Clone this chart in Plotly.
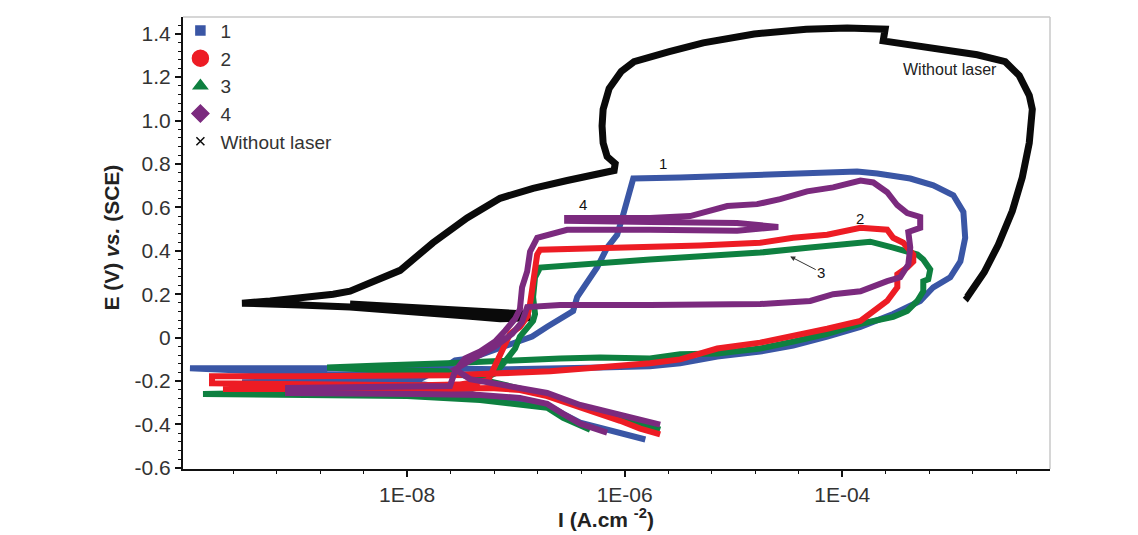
import plotly.graph_objects as go

# ---------------- data (I in A/cm^2, E in V vs SCE) ----------------
black_I = [2.99e-9, 1.73e-8, 7.16e-8, 1.27e-7, 1.27e-7, 7.16e-8, 3.56e-8, 1.73e-8, 8.63e-9, 2.99e-9,
           1.04e-9, 3.04e-10, 5.50e-10, 1.04e-9, 2.09e-9, 2.99e-9, 6.98e-9, 8.63e-9, 1.73e-8, 3.56e-8,
           7.16e-8, 1.44e-7, 2.96e-7, 5.96e-7, 8.0e-7, 8.18e-7, 6.90e-7, 6.34e-7, 6.20e-7, 6.34e-7,
           7.20e-7, 9.30e-7, 1.22e-6, 2.57e-6, 5.27e-6, 1.55e-5, 4.67e-5, 1.11e-4, 2.48e-4, 2.38e-4,
           4.13e-4, 8.49e-4, 1.74e-3, 3.15e-3, 4.24e-3, 5.24e-3, 5.59e-3, 5.24e-3, 4.52e-3, 3.66e-3,
           2.72e-3, 2.02e-3, 1.67e-3, 1.41e-3, 1.35e-3]
black_E = [0.155, 0.137, 0.118, 0.109, 0.091, 0.087, 0.100, 0.114, 0.128, 0.141,
           0.150, 0.159, 0.169, 0.182, 0.200, 0.214, 0.292, 0.310, 0.437, 0.551,
           0.642, 0.688, 0.724, 0.756, 0.770, 0.802, 0.834, 0.897, 0.975, 1.052,
           1.148, 1.226, 1.271, 1.317, 1.358, 1.399, 1.421, 1.426, 1.421, 1.367,
           1.349, 1.326, 1.303, 1.271, 1.207, 1.116, 1.052, 0.897, 0.738, 0.583,
           0.428, 0.301, 0.237, 0.187, 0.196]

s1_I = [1.55e-6, 1.01e-6, 6.90e-7, 3.90e-7, 2.72e-7, 1.94e-7, 1.09e-7, 4.69e-8, 2.48e-8, 1.32e-8,
        1.96e-9, 3.04e-10, 1.96e-9, 1.32e-8, 2.33e-8, 2.76e-8, 3.79e-8, 5.79e-8, 8.85e-8, 1.41e-7,
        1.94e-7, 2.72e-7, 3.36e-7, 3.66e-7, 4.52e-7, 5.58e-7, 6.90e-7, 8.53e-7, 9.68e-7, 1.12e-6,
        1.20e-6, 3.24e-6, 1.43e-5, 4.11e-5, 1.37e-4, 2.10e-4, 4.22e-4, 6.87e-4, 1.05e-3, 1.30e-3,
        1.35e-3, 1.22e-3, 9.84e-4, 6.87e-4, 5.21e-4, 2.94e-4, 1.47e-4, 7.28e-5, 3.54e-5, 1.76e-5,
        7.10e-6, 3.24e-6, 1.71e-6, 5.96e-7, 2.07e-7, 7.16e-8, 1.32e-8, 1.84e-9, 1.01e-10, 1.84e-9,
        1.32e-8, 4.69e-8]
s1_E = [-0.469, -0.446, -0.424, -0.392, -0.351, -0.310, -0.292, -0.269, -0.232, -0.214,
        -0.210, -0.205, -0.200, -0.191, -0.128, -0.105, -0.096, -0.064, -0.027, 0.005,
        0.050, 0.096, 0.123, 0.187, 0.260, 0.323, 0.415, 0.474, 0.565, 0.688,
        0.733, 0.738, 0.747, 0.752, 0.765, 0.756, 0.733, 0.702, 0.656, 0.579,
        0.460, 0.351, 0.278, 0.232, 0.169, 0.109, 0.050, 0.005, -0.036, -0.064,
        -0.087, -0.118, -0.132, -0.137, -0.141, -0.146, -0.141, -0.141, -0.141, -0.169,
        -0.169, -0.173]

s2_I = [2.12e-6, 1.39e-6, 9.10e-7, 3.90e-7, 1.94e-7, 1.09e-7, 5.79e-8, 2.48e-8, 2.99e-9, 2.03e-10,
        2.99e-9, 2.48e-8, 5.56e-8, 6.18e-8, 7.16e-8, 7.96e-8, 8.85e-8, 1.09e-7, 1.27e-7, 1.35e-7,
        1.41e-7, 1.50e-7, 1.57e-7, 1.67e-7, 1.71e-6, 4.94e-6, 1.76e-5, 3.54e-5, 7.28e-5, 1.47e-4,
        2.59e-4, 2.94e-4, 3.64e-4, 4.50e-4, 4.50e-4, 3.96e-4, 3.21e-4, 3.21e-4, 2.59e-4, 1.93e-4,
        1.47e-4, 7.28e-5, 3.54e-5, 1.76e-5, 7.10e-6, 3.24e-6, 1.71e-6, 5.96e-7, 2.07e-7, 7.16e-8,
        2.48e-8, 1.04e-9, 1.61e-10, 1.61e-10, 1.04e-9, 1.32e-8, 4.69e-8]
s2_E = [-0.446, -0.419, -0.383, -0.323, -0.269, -0.241, -0.232, -0.237, -0.237, -0.237,
        -0.228, -0.223, -0.196, -0.150, -0.087, -0.027, 0.018, 0.050, 0.096, 0.155,
        0.232, 0.305, 0.383, 0.405, 0.415, 0.424, 0.437, 0.460, 0.474, 0.506,
        0.497, 0.460, 0.437, 0.383, 0.351, 0.323, 0.292, 0.232, 0.169, 0.123,
        0.077, 0.041, 0.005, -0.023, -0.050, -0.100, -0.118, -0.137, -0.155, -0.164,
        -0.173, -0.178, -0.178, -0.210, -0.214, -0.219, -0.214]

s3_I = [4.82e-7, 2.72e-7, 1.94e-7, 8.85e-8, 4.69e-8, 1.00e-8, 1.04e-9, 1.33e-10, 1.04e-9, 1.32e-8,
        3.79e-8, 6.44e-8, 7.96e-8, 9.84e-8, 1.09e-7, 1.44e-7, 1.50e-7, 1.44e-7, 1.50e-7, 1.60e-7,
        1.67e-7, 1.71e-6, 4.94e-6, 1.76e-5, 5.08e-5, 1.47e-4, 1.81e-4, 2.94e-4, 3.96e-4, 4.90e-4,
        5.56e-4, 6.44e-4, 6.18e-4, 5.56e-4, 5.56e-4, 4.90e-4, 3.96e-4, 2.94e-4, 1.47e-4, 7.28e-5,
        3.54e-5, 1.76e-5, 7.10e-6, 3.24e-6, 1.71e-6, 5.96e-7, 2.55e-7, 7.16e-8, 2.33e-8, 5.65e-9,
        1.84e-9, 5.65e-9, 2.33e-8, 4.69e-8, 1.09e-7, 1.94e-7, 3.90e-7, 9.10e-7, 2.12e-6]
s3_E = [-0.424, -0.369, -0.323, -0.305, -0.287, -0.269, -0.264, -0.260, -0.251, -0.246,
        -0.219, -0.164, -0.109, -0.050, 0.005, 0.077, 0.109, 0.187, 0.278, 0.314,
        0.323, 0.360, 0.374, 0.392, 0.415, 0.437, 0.442, 0.415, 0.396, 0.383,
        0.360, 0.314, 0.269, 0.260, 0.214, 0.169, 0.123, 0.096, 0.064, 0.018,
        -0.018, -0.050, -0.073, -0.077, -0.096, -0.091, -0.096, -0.109, -0.118, -0.128,
        -0.137, -0.150, -0.155, -0.191, -0.232, -0.264, -0.314, -0.364, -0.424]

s4_I = [6.90e-7, 3.90e-7, 2.72e-7, 1.94e-7, 1.09e-7, 4.69e-8, 1.32e-8, 2.99e-9, 8.05e-10, 8.05e-10,
        2.99e-9, 1.32e-8, 2.48e-8, 2.76e-8, 3.41e-8, 4.69e-8, 6.44e-8, 7.96e-8, 9.84e-8, 1.09e-7,
        1.14e-7, 1.27e-7, 1.35e-7, 1.57e-7, 2.55e-7, 2.96e-7, 1.71e-6, 1.08e-5, 2.58e-5, 1.08e-5,
        1.71e-6, 2.96e-7, 2.96e-7, 1.71e-6, 4.00e-6, 6.52e-6, 8.77e-6, 1.65e-5, 2.69e-5, 4.76e-5,
        8.26e-5, 1.47e-4, 1.93e-4, 2.59e-4, 3.21e-4, 3.96e-4, 5.21e-4, 5.21e-4, 4.05e-4, 4.22e-4,
        4.05e-4, 3.41e-4, 2.59e-4, 1.47e-4, 8.26e-5, 5.08e-5, 1.76e-5, 1.71e-6, 2.55e-7, 1.27e-7,
        1.14e-7, 9.25e-8, 6.44e-8, 3.96e-8, 2.76e-8, 3.79e-8, 1.09e-7, 1.94e-7, 3.90e-7, 9.10e-7,
        2.12e-6]
s4_E = [-0.437, -0.396, -0.351, -0.305, -0.278, -0.264, -0.260, -0.260, -0.255, -0.232,
        -0.228, -0.228, -0.223, -0.155, -0.096, -0.064, -0.018, 0.032, 0.087, 0.132,
        0.232, 0.305, 0.396, 0.460, 0.487, 0.497, 0.497, 0.492, 0.510, 0.528,
        0.533, 0.538, 0.551, 0.551, 0.560, 0.588, 0.606, 0.615, 0.638, 0.674,
        0.692, 0.724, 0.715, 0.670, 0.610, 0.574, 0.556, 0.506, 0.487, 0.415,
        0.337, 0.278, 0.260, 0.214, 0.200, 0.169, 0.155, 0.150, 0.150, 0.141,
        0.073, 0.018, -0.041, -0.100, -0.146, -0.191, -0.232, -0.255, -0.310, -0.355,
        -0.401]

series_names = ["1", "2", "3", "4", "Without laser"]
series_colors = ["#3a56a5", "#ed1c24", "#0e8040", "#7b2a7e", "#0a0a0a"]

y_tickvals = [-0.6, -0.4, -0.2, 0, 0.2, 0.4, 0.6, 0.8, 1.0, 1.2, 1.4]
y_ticktext = ["-0.6", "-0.4", "-0.2", "0", "0.2", "0.4", "0.6", "0.8", "1.0", "1.2", "1.4"]
x_tickvals = [1e-8, 1e-6, 1e-4]
x_ticktext = ["1E-08", "1E-06", "1E-04"]
x_minor_exps = [-9.6, -9.2, -8.8, -8.4, -7.6, -7.2, -6.8, -6.4, -5.6, -5.2, -4.8, -4.4,
                -3.6, -3.2, -2.8, -2.4]

FONT = "Liberation Sans, Arial, sans-serif"

fig = go.Figure()

curves = [
    (black_I, black_E, series_colors[4], 7),
    (s1_I, s1_E, series_colors[0], 6),
    (s3_I, s3_E, series_colors[2], 6),
    (s2_I, s2_E, series_colors[1], 6),
    (s4_I, s4_E, series_colors[3], 6),
]
for xs, ys, col, w in curves:
    fig.add_trace(go.Scatter(x=xs, y=ys, mode="lines", showlegend=False, hoverinfo="skip",
                             line=dict(color=col, width=w)))

legend_symbols = ["square", "circle", "triangle-up", "diamond", "x-thin"]
legend_sizes = [9, 16, 12, 13, 8]
for name, col, sym, sz in zip(series_names, series_colors, legend_symbols, legend_sizes):
    fig.add_trace(go.Scatter(x=[None], y=[None], mode="markers", name=name,
                             marker=dict(symbol=sym, size=sz, color=col,
                                         line=dict(color=col, width=1.5))))

fig.update_layout(
    width=1138, height=535,
    margin=dict(l=183, r=88, t=12, b=66),
    paper_bgcolor="white", plot_bgcolor="white",
    font=dict(family=FONT, color="#333333"),
    legend=dict(x=-0.003, y=1.012, xanchor="left", yanchor="top",
                bgcolor="rgba(0,0,0,0)", font=dict(size=19, color="#333333"),
                itemsizing="trace", tracegroupgap=0),
    xaxis=dict(type="log", range=[-10.06, -2.09], tickmode="array",
               tickvals=x_tickvals, ticktext=x_ticktext,
               ticks="outside", ticklen=6, tickwidth=2, tickcolor="#111",
               showline=True, linecolor="#111", linewidth=2,
               showgrid=False, zeroline=False,
               tickfont=dict(size=21, color="#333333"),
               minor=dict(tickmode="array", tickvals=[10 ** e for e in x_minor_exps],
                          ticks="outside", ticklen=3, tickwidth=1, tickcolor="#111",
                          showgrid=False)),
    yaxis=dict(range=[-0.605, 1.477], tickmode="array",
               tickvals=y_tickvals, ticktext=y_ticktext,
               ticks="outside", ticklen=6, tickwidth=2, tickcolor="#111",
               showline=True, linecolor="#111", linewidth=2,
               showgrid=False, zeroline=False,
               tickfont=dict(size=21, color="#333333"),
               minor=dict(dtick=0.04, tick0=0, ticks="outside", ticklen=3, tickwidth=1,
                          tickcolor="#111", showgrid=False)),
    shapes=[
        dict(type="line", xref="paper", yref="paper", x0=0, x1=1, y0=1, y1=1,
             line=dict(color="#c8c8c8", width=1.5)),
        dict(type="line", xref="paper", yref="paper", x0=1, x1=1, y0=0, y1=1,
             line=dict(color="#c8c8c8", width=1.5)),
    ],
    annotations=[
        dict(text="<b>E (V) <i>vs.</i> (SCE)</b>", textangle=-90, xref="paper", yref="paper",
             x=-0.0819, y=0.512, xanchor="center", yanchor="middle", showarrow=False,
             font=dict(size=21, color="#222")),
        dict(text="<b>I (A.cm <sup>-2</sup>)</b>", xref="paper", yref="paper",
             x=0.488, y=-0.109, xanchor="center", yanchor="middle", showarrow=False,
             font=dict(size=21, color="#222")),
        dict(text="1", x=-5.646, y=0.8, xref="x", yref="y", showarrow=False,
             font=dict(size=15, color="#111")),
        dict(text="4", x=-6.382, y=0.612, xref="x", yref="y", showarrow=False,
             font=dict(size=15, color="#111")),
        dict(text="2", x=-3.834, y=0.55, xref="x", yref="y", showarrow=False,
             font=dict(size=15, color="#111")),
        dict(text="3", x=-4.478, y=0.374, xref="x", yref="y", showarrow=True,
             ax=31, ay=16, arrowhead=2, arrowsize=1, arrowwidth=1, arrowcolor="#333",
             standoff=0, font=dict(size=15, color="#111")),
        dict(text="Without laser", x=-3.007, y=1.235, xref="x", yref="y", showarrow=False,
             font=dict(size=16, color="#222")),
    ],
)

# remove the page's default 8px body margin so the figure fills the window exactly
fig.write_html("out.html", config={"displayModeBar": False},
               post_script="document.body.style.margin='0';document.body.style.overflow='hidden';")
